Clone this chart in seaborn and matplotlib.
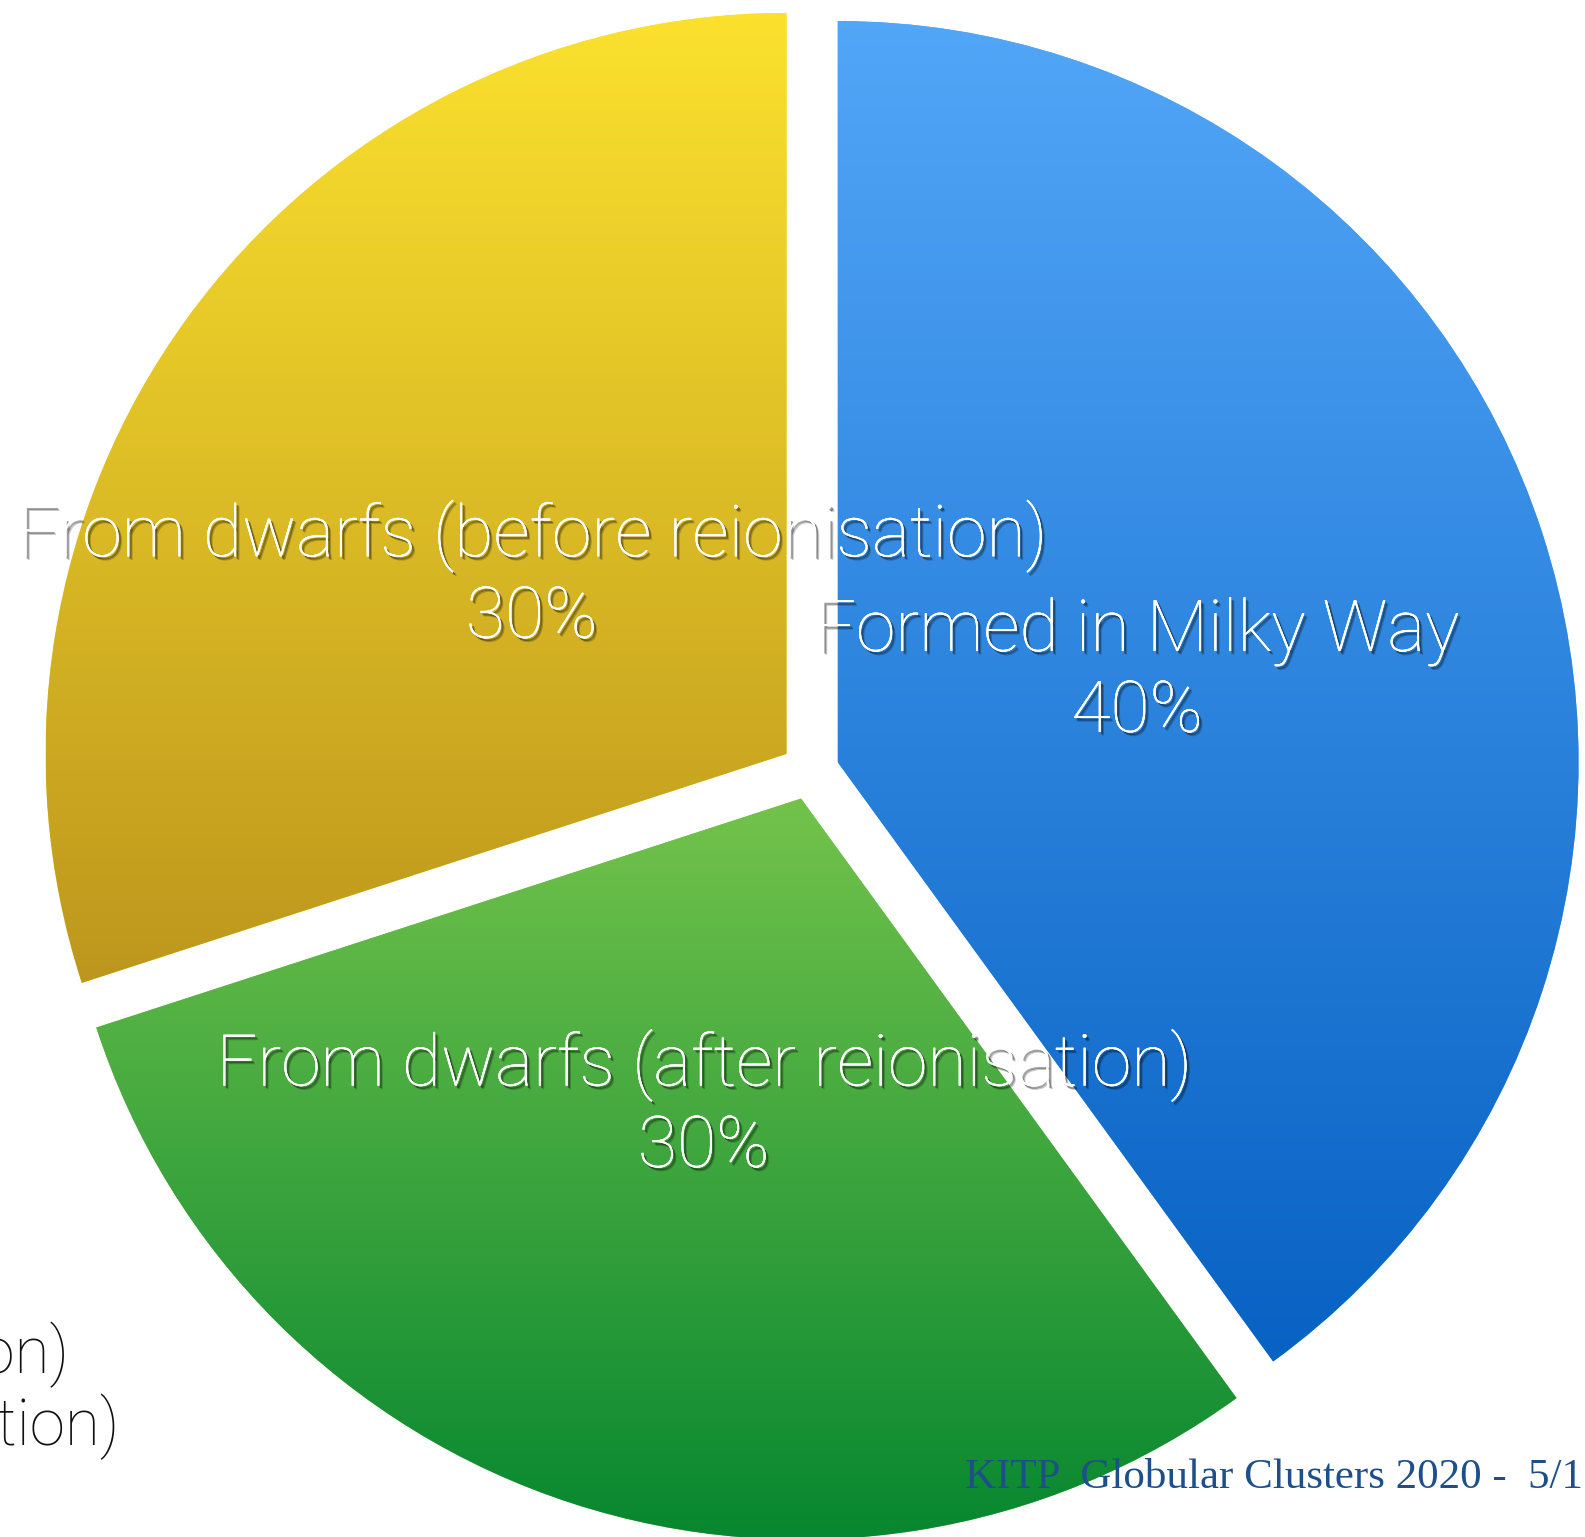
import numpy as np
import matplotlib
matplotlib.use("Agg")
import matplotlib.pyplot as plt
import matplotlib.patheffects as pe
from matplotlib.colors import LinearSegmentedColormap
import seaborn as sns

# Origin of the Milky Way globular clusters
categories = ["Formed in Milky Way",
              "From dwarfs (after reionisation)",
              "From dwarfs (before reionisation)"]
shares = [40, 30, 30]
top_colors = ["#52a6f8", "#73c34b", "#fbe12e"]
bottom_colors = ["#0862c3", "#078730", "#bd971d"]
legend_labels = ["From dwarfs (after reionisation)",
                 "From dwarfs (before reionisation)"]
footer = "KITP  Globular Clusters 2020 -  5/1"

sns.set_theme(style="white")
plt.rcParams["font.family"] = ["Roboto", "DejaVu Sans"]

W, H = 1585, 1537
fig = plt.figure(figsize=(W / 100, H / 100), dpi=100)
ax = fig.add_axes([0, 0, 1, 1])

radius = 741
center = (810, H - 771)
gap = 29

wedges, texts = ax.pie(
    shares,
    colors=sns.color_palette(top_colors),
    startangle=90,
    counterclock=False,
    radius=radius,
    center=center,
    explode=[gap] * 3,
    labels=None,
    wedgeprops=dict(linewidth=0),
)[:2]

ax.set_aspect("auto")
ax.axis("off")

# vertical gradient fill inside each wedge
for w, c_top, c_bot in zip(wedges, top_colors, bottom_colors):
    ext = w.get_path().get_extents()
    cmap = LinearSegmentedColormap.from_list("g", [c_bot, c_top])
    grad = np.linspace(0, 1, 256).reshape(-1, 1)
    im = ax.imshow(grad, cmap=cmap, origin="lower", aspect="auto",
                   extent=[ext.x0, ext.x1, ext.y0, ext.y1], zorder=2,
                   interpolation="bilinear")
    im.set_clip_path(w)
ax.set_xlim(0, W)
ax.set_ylim(0, H)

# labels inside wedges, with a soft drop shadow
shadow = [pe.withSimplePatchShadow(offset=(2.4, -2.6), shadow_rgbFace="black", alpha=0.22),
          pe.withSimplePatchShadow(offset=(1.6, -1.8), shadow_rgbFace="black", alpha=0.35),
          pe.Normal()]
theta = 90.0
for w, name, val in zip(wedges, categories, shares):
    span = val / sum(shares) * 360
    mid = np.deg2rad(theta - span / 2)
    theta -= span
    cx, cy = w.center
    d = 0.425 * radius
    ax.text(cx + d * np.cos(mid), cy + d * np.sin(mid) - 7, f"{name}\n{val}%",
            ha="center", va="center", color="white", fontsize=51.5,
            fontweight="light", linespacing=1.19, zorder=5,
            path_effects=shadow)

# legend entries running off the left edge
for i, lab in enumerate(legend_labels):
    ax.text([69, 119][i], H - [1373, 1445][i], lab, ha="right", va="baseline",
            color="#111111", fontsize=46, fontweight="light", zorder=5)

ax.text(965, H - 1488, footer, ha="left", va="baseline", color="#1d4f8a",
        fontsize=31, family=["Liberation Serif", "DejaVu Serif"], zorder=6)

fig.savefig("out.png", dpi=100)
